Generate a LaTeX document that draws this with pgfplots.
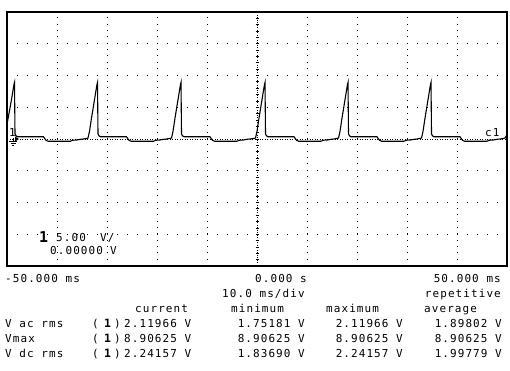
\documentclass[border=0pt]{standalone}
\usepackage{pgfplots}
\pgfplotsset{compat=1.18}
\usepackage{fontspec}
\newfontfamily\osc[LetterSpace=10]{DejaVu Sans Mono}
\begin{document}
\begin{tikzpicture}[x=1bp,y=-1bp,
  txt/.style={inner sep=0pt, font=\osc\fontsize{11}{12}\selectfont, anchor=base west},
  txr/.style={inner sep=0pt, font=\osc\fontsize{11}{12}\selectfont, anchor=base east}]
\path[use as bounding box, fill=white] (0,0) rectangle (510,370);
% dotted graticule
\foreach \gx in {57,107,157,207,307,357,407,457}
  \draw[line width=1bp, dash pattern=on 1bp off 5.35bp] (\gx,266) -- (\gx,12);
\foreach \gy in {43.75,75.5,107.25,170.75,202.5,234.25}
  \draw[line width=1bp, dash pattern=on 1bp off 9bp] (7,\gy) -- (507,\gy);
\draw[line width=1bp, dash pattern=on 1bp off 1.5bp] (7,139) -- (507,139);
\draw[line width=1bp, dash pattern=on 1bp off 1.5bp] (257,12) -- (257,266);
\foreach \k in {1,...,39}
  \draw[line width=0.8bp] (255.5,12+6.35*\k) -- (258.5,12+6.35*\k);
\begin{axis}[at={(7bp,-266bp)}, anchor=south west, width=500bp, height=254bp,
  scale only axis, xmin=-50, xmax=50, ymin=-20, ymax=20,
  axis line style={line width=1.3bp}, xtick=\empty, ytick=\empty]
\addplot[black, line width=1.1bp, sharp plot] coordinates {
(-50,2.3) (-49.1,6.2) (-48.6,8.6) (-48.5,8.9) (-48.4,0.8) (-48.2,0.5) (-47.9,0.35)
(-42.7,0.35) (-42.2,-0.2) (-41.8,-0.35) (-37.3,-0.35) (-36.9,-0.2) (-36.0,-0.15)
(-35.3,-0.05) (-34.7,0.0) (-34.0,0.1)
(-33.8,0.15) (-33.5,1.2) (-33.1,3.3) (-32.5,6.2) (-32.0,8.6) (-31.9,8.9) (-31.8,0.8)
(-31.6,0.5) (-31.3,0.35) (-26.1,0.35) (-25.6,-0.2) (-25.2,-0.35) (-20.7,-0.35)
(-20.3,-0.2) (-19.4,-0.15) (-18.7,-0.05) (-18.1,0.0) (-17.4,0.1)
(-17.1,0.15) (-16.8,1.2) (-16.4,3.3) (-15.8,6.2) (-15.3,8.6) (-15.2,8.9) (-15.1,0.8)
(-14.9,0.5) (-14.6,0.35) (-9.4,0.35) (-8.9,-0.2) (-8.5,-0.35) (-4.0,-0.35)
(-3.6,-0.2) (-2.7,-0.15) (-2.0,-0.05) (-1.4,0.0) (-0.6,0.1)
(-0.3,0.15) (0.0,1.2) (0.4,3.3) (1.0,6.2) (1.5,8.6) (1.6,8.9) (1.7,0.8) (1.9,0.5)
(2.2,0.35) (7.4,0.35) (7.9,-0.2) (8.3,-0.35) (12.8,-0.35) (13.2,-0.2) (14.1,-0.15)
(14.8,-0.05) (15.4,0.0) (16.0,0.1)
(16.3,0.15) (16.6,1.2) (17.0,3.3) (17.6,6.2) (18.1,8.6) (18.2,8.9) (18.3,0.8)
(18.5,0.5) (18.8,0.35) (24.0,0.35) (24.5,-0.2) (24.9,-0.35) (29.4,-0.35)
(29.8,-0.2) (30.7,-0.15) (31.4,-0.05) (32.0,0.0) (32.6,0.1)
(32.9,0.15) (33.2,1.2) (33.6,3.3) (34.2,6.2) (34.7,8.6) (34.8,8.9) (34.9,0.8)
(35.1,0.5) (35.4,0.35) (40.6,0.35) (41.1,-0.2) (41.5,-0.35) (46.0,-0.35)
(46.4,-0.2) (47.3,-0.15) (48.0,-0.05) (48.6,0.0) (49.3,0.1) (49.6,0.15) (50,0.7)
};
\end{axis}
% channel markers
\node[txt] at (9,136) {1};
\draw[line width=1bp] (13,138) -- (13,141);
\draw[line width=1bp] (9,141.5) -- (17,141.5);
\draw[line width=1bp] (10.5,143.5) -- (15.5,143.5);
\draw[line width=1bp] (12,145.5) -- (14,145.5);
\fill (15,136.5) -- (19,139) -- (15,141.5) -- cycle;
\node[txt] at (485,136) {c1};
% scale text on screen
\node[inner sep=0pt, anchor=base west, font=\osc\bfseries\fontsize{15}{15}\selectfont] at (39,242) {1};
\node[txt] at (56,241) {5.00};
\node[txt] at (100,241) {V/};
\node[txt] at (50,254) {0.00000};
\node[txt] at (110,254) {V};
% bottom text
\node[txt] at (5,282) {-50.000 ms};
\node[txt] at (255,282) {0.000};
\node[txt] at (300,282) {s};
\node[txr] at (501,282) {50.000 ms};
\node[txt] at (222,297) {10.0 ms/div};
\node[txr] at (501,297) {repetitive};
\node[txt] at (135,312) {current};
\node[txt] at (231,312) {minimum};
\node[txt] at (326,312) {maximum};
\node[txt] at (424,312) {average};
\node[txt] at (5,327) {V ac rms};
\node[txt] at (5,342) {Vmax};
\node[txt] at (5,357) {V dc rms};
\foreach \yy/\va/\vb/\vc/\vd in {327/2.11966/1.75181/2.11966/1.89802,
    342/8.90625/8.90625/8.90625/8.90625, 357/2.24157/1.83690/2.24157/1.99779}{
  \node[txt] at (92,\yy) {(};
  \node[inner sep=0pt, anchor=base west, font=\osc\bfseries\fontsize{11.5}{12}\selectfont] at (104,\yy) {1};
  \node[txt] at (114,\yy) {)};
  \node[txt] at (124,\yy) {\va\ V};
  \node[txr] at (305,\yy) {\vb\ V};
  \node[txr] at (403,\yy) {\vc\ V};
  \node[txr] at (502,\yy) {\vd\ V};
}
\end{tikzpicture}
\end{document}
